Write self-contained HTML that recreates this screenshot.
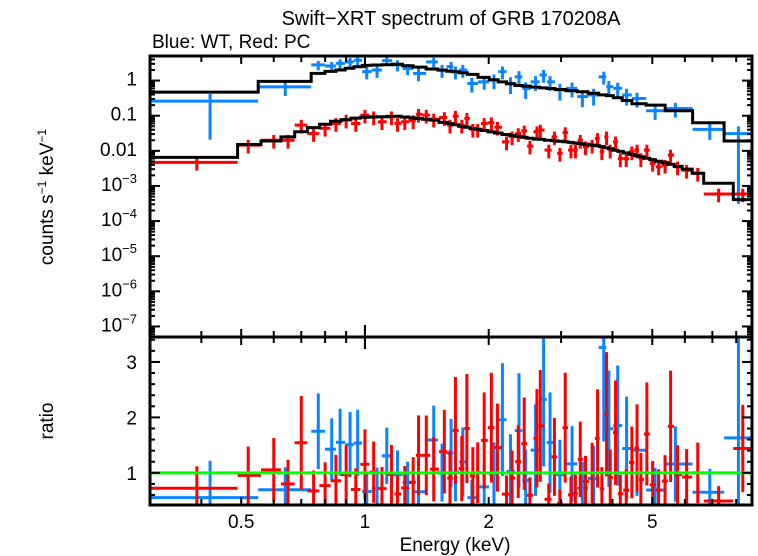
<!DOCTYPE html>
<html><head><meta charset="utf-8"><style>
body{margin:0;background:#fff}
svg{display:block;font-family:"Liberation Sans",sans-serif}
</style></head><body>
<svg id="c" width="758" height="556" viewBox="0 0 758 556">
<defs>
<clipPath id="ct"><rect x="150" y="56" width="602" height="281"/></clipPath>
<clipPath id="cb"><rect x="150" y="337" width="602" height="168"/></clipPath>
</defs>
<text x="451" y="25" font-size="20" text-anchor="middle">Swift−XRT spectrum of GRB 170208A</text>
<text x="152" y="48" font-size="19">Blue: WT, Red: PC</text>
<text transform="translate(53,197) rotate(-90)" font-size="19" text-anchor="middle">counts s<tspan dy="-7" font-size="12">−1</tspan><tspan dy="7"> keV</tspan><tspan dy="-7" font-size="12">−1</tspan></text>
<text transform="translate(53,421) rotate(-90)" font-size="19" text-anchor="middle">ratio</text>
<text x="455" y="551" font-size="19" text-anchor="middle">Energy (keV)</text>
<g id="gt" clip-path="url(#ct)"></g>
<g id="gb" clip-path="url(#cb)"></g>
<g id="ax"></g>
</svg>
<script>
// Blue (WT) data
const blueE=[0.42,0.64,0.77,0.83,0.87,0.92,0.96,1.01,1.07,1.13,1.2,1.27,1.35,1.47,1.54,1.62,1.66,1.73,1.82,1.95,2.06,2.16,2.26,2.37,2.46,2.6,2.72,2.82,2.98,3.19,3.38,3.6,3.81,3.92,4.12,4.33,4.59,5.08,5.69,6.9,8.1];
const blueV=[0.26,0.66,2.8,2.6,3.1,3.4,3.8,1.8,2.0,3.7,2.8,2.2,1.6,3.4,2.0,2.5,1.8,2.0,0.83,0.92,1.03,1.8,0.83,1.28,0.6,0.92,1.44,0.92,0.54,0.6,0.35,0.39,1.28,0.67,0.6,0.39,0.31,0.138,0.16,0.041,0.031];
const blueErr=[0.92,0.45,0.3,0.3,0.3,0.3,0.3,0.4,0.4,0.3,0.35,0.35,0.4,0.3,0.4,0.35,0.4,0.4,0.45,0.4,0.45,0.4,0.5,0.45,0.5,0.45,0.4,0.45,0.5,0.45,0.5,0.5,0.4,0.45,0.45,0.5,0.45,0.45,0.45,0.5,0.99];
// Red (PC) data
const redE=[0.39,0.52,0.6,0.65,0.7,0.75,0.8,0.85,0.9,0.95,1.0,1.05,1.1,1.16,1.2,1.25,1.31,1.35,1.41,1.47,1.56,1.61,1.66,1.72,1.77,1.83,1.88,1.95,2.03,2.1,2.21,2.28,2.36,2.44,2.52,2.62,2.67,2.8,2.89,2.98,3.07,3.17,3.25,3.34,3.44,3.57,3.68,3.77,3.87,3.95,4.07,4.18,4.32,4.46,4.59,4.69,4.85,5.01,5.18,5.37,5.54,5.76,6.06,6.45,7.25,8.3];
const redV=[0.0047,0.0145,0.02,0.02,0.054,0.031,0.044,0.06,0.075,0.06,0.104,0.093,0.067,0.093,0.06,0.067,0.072,0.11,0.104,0.08,0.089,0.054,0.097,0.054,0.084,0.041,0.041,0.06,0.063,0.047,0.018,0.025,0.031,0.037,0.0136,0.035,0.039,0.0105,0.025,0.0085,0.033,0.0105,0.0105,0.02,0.013,0.0145,0.0225,0.0094,0.025,0.0105,0.018,0.006,0.006,0.0094,0.0105,0.006,0.0105,0.0044,0.0035,0.0039,0.0076,0.0035,0.0028,0.0023,0.00059,0.00059];
// Model knots
const blueModelE=[0.42,0.64,0.77,0.85,1.0,1.2,1.78,2.33,3.4,4.0,4.59,5.08,5.69,6.9,8.1];
const blueModelV=[0.47,0.95,1.6,1.9,2.7,2.9,1.6,0.74,0.48,0.36,0.22,0.2,0.138,0.063,0.019];
const redModelE=[0.39,0.52,0.6,0.65,0.7,0.75,0.85,0.97,1.2,1.47,1.78,2.14,2.57,3.1,3.73,4.52,5.44,6.2,6.45,7.25,8.3];
const redModelV=[0.0065,0.0152,0.019,0.025,0.035,0.046,0.07,0.089,0.097,0.075,0.046,0.031,0.022,0.018,0.0136,0.0076,0.0044,0.0028,0.0023,0.0012,0.00041];
const redRelErr=0.42;
const xTicksMajor=[0.5,1,2,5];
const yTopDecades=[0,-1,-2,-3,-4,-5,-6,-7];
const ratioTicks=[1,2,3];

const NS="http://www.w3.org/2000/svg";
const X0=150,X1=752,EMIN=0.3,EMAX=8.74;
const TY0=56,TY1=337,TVMAX=0.7,TVMIN=-7.3;
const BY0=337,BY1=505,RMAX=3.45,RMIN=0.42;
const xs=e=>X0+(Math.log10(e)-Math.log10(EMIN))/(Math.log10(EMAX)-Math.log10(EMIN))*(X1-X0);
const ys=v=>TY0+(TVMAX-Math.log10(v))/(TVMAX-TVMIN)*(TY1-TY0);
const yr=r=>BY0+(RMAX-r)/(RMAX-RMIN)*(BY1-BY0);
function mk(tag,at,par){const el=document.createElementNS(NS,tag);for(const k in at)el.setAttribute(k,at[k]);par.appendChild(el);return el;}
function interp(E,V,e){
  if(e<=E[0])return V[0];if(e>=E[E.length-1])return V[V.length-1];
  for(let i=0;i<E.length-1;i++)if(e>=E[i]&&e<=E[i+1]){const t=(Math.log(e)-Math.log(E[i]))/(Math.log(E[i+1])-Math.log(E[i]));return Math.exp(Math.log(V[i])+t*(Math.log(V[i+1])-Math.log(V[i])));}
}
function edges(E){
  const ed=[0.3];
  for(let i=0;i<E.length-1;i++)ed.push(Math.sqrt(E[i]*E[i+1]));
  ed.push(EMAX);
  return ed;
}
const gt=document.getElementById('gt'),gb=document.getElementById('gb'),ax=document.getElementById('ax');
function series(E,V,errs,ME,MV,color,name){
  const ed=edges(E);
  if(name==='blue'){ed[1]=0.55;ed[2]=0.74;}
  if(name==='red'){ed[1]=0.49;ed[E.length-1]=7.87;ed[E.length-2]=6.67;}
  let d='';
  for(let i=0;i<E.length;i++){
    const m=interp(ME,MV,E[i]);
    d+=(i===0?'M':'L')+xs(ed[i]).toFixed(1)+','+ys(m).toFixed(1)+'L'+xs(ed[i+1]).toFixed(1)+','+ys(m).toFixed(1);
  }
  for(let i=0;i<E.length;i++){
    const v=V[i],m=interp(ME,MV,E[i]),r=v/m,er=errs?errs[i]:redRelErr;
    const g=mk('g',{},gt);
    
    
    mk('line',{x1:xs(ed[i]),x2:xs(ed[i+1]),y1:ys(v),y2:ys(v),stroke:color,'stroke-width':3},g);
    mk('line',{x1:xs(E[i]),x2:xs(E[i]),y1:ys(v*(1+Math.min(er,0.6))),y2:ys(Math.max(v*(1-er),1e-9)),stroke:color,'stroke-width':3},g);
    const h=mk('g',{},gb);
    
    
    mk('line',{x1:xs(ed[i]),x2:xs(ed[i+1]),y1:yr(r),y2:yr(r),stroke:color,'stroke-width':3},h);
    mk('line',{x1:xs(E[i]),x2:xs(E[i]),y1:yr(r*(1+er*1.3)),y2:yr(r*(1-er*1.3)),stroke:color,'stroke-width':3},h);
  }
  return d;
}
const dB=series(blueE,blueV,blueErr,blueModelE,blueModelV,'#0a84ff','blue');
const dR=series(redE,redV,null,redModelE,redModelV,'#ff0000','red');
let p=mk('path',{d:dB,fill:'none',stroke:'#000','stroke-width':3},gt);


p=mk('path',{d:dR,fill:'none',stroke:'#000','stroke-width':3},gt);


p=mk('line',{x1:X0,x2:X1,y1:yr(1),y2:yr(1),stroke:'#00ff00','stroke-width':3},gb);



for(const [y0,y1,n] of [[TY0,TY1,'top-panel-frame'],[BY0,BY1,'bottom-panel-frame']]){
  const r=mk('rect',{x:X0,y:y0,width:X1-X0,height:y1-y0,fill:'none',stroke:'#000','stroke-width':3},ax);
  
  
}
const xt=[];for(let d=0.3;d<1;d+=0.1)xt.push(+d.toFixed(1));for(let d=1;d<9;d++)xt.push(d);
for(const e of xt){
  const L=(e===1)?12:((e===0.5||e===2||e===5)?8:6);
  const x=xs(e);
  for(const [y,s] of [[TY0,1],[TY1,-1],[BY0,1],[BY1,-1]])
    mk('line',{x1:x,x2:x,y1:y,y2:y+s*L,stroke:'#000','stroke-width':2},ax);
}
for(const e of xTicksMajor){
  const t=mk('text',{x:xs(e),y:528,'font-size':19,'text-anchor':'middle'},ax);
  t.textContent=String(e);
  
  
}
for(const dcd of yTopDecades.concat([-8])){
  for(let m=1;m<10;m++){
    const v=m*Math.pow(10,dcd);const y=ys(v);
    if(y<TY0||y>TY1)continue;
    const L=m===1?10:5;
    mk('line',{x1:X0,x2:X0+L,y1:y,y2:y,stroke:'#000','stroke-width':2},ax);
    mk('line',{x1:X1,x2:X1-L,y1:y,y2:y,stroke:'#000','stroke-width':2},ax);
  }
}
for(const dcd of yTopDecades){
  const y=ys(Math.pow(10,dcd));
  const t=mk('text',{x:137,y:y+5,'font-size':19,'text-anchor':'end'},ax);
  
  
  if(dcd>=-2)t.textContent=['1','0.1','0.01'][-dcd];
  else{t.textContent='10';const s=mk('tspan',{dy:-8,'font-size':13},t);s.textContent='−'+(-dcd);}
}
for(let r=0.6;r<RMAX;r+=0.2){
  const rr=Math.round(r*10)/10;const y=yr(rr);const L=Number.isInteger(rr)?10:5;
  mk('line',{x1:X0,x2:X0+L,y1:y,y2:y,stroke:'#000','stroke-width':2},ax);
  mk('line',{x1:X1,x2:X1-L,y1:y,y2:y,stroke:'#000','stroke-width':2},ax);
}
for(const r of ratioTicks){
  const t=mk('text',{x:137,y:yr(r)+7,'font-size':19,'text-anchor':'end'},ax);
  t.textContent=String(r);
  
  
}
</script>
</body></html>
